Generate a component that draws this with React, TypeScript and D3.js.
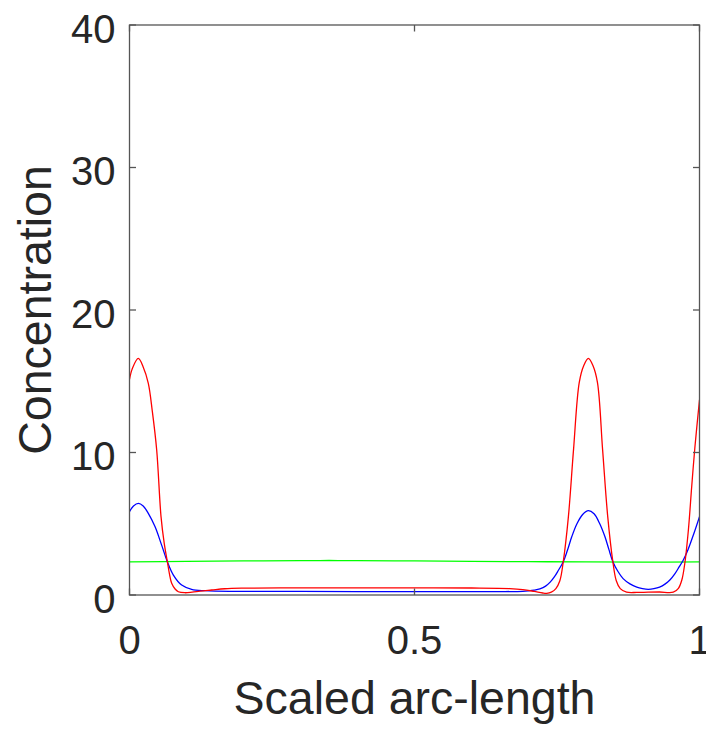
import React from "react";
import * as d3 from "d3";

const xTicks = [0, 0.5, 1];
const xTickLabels = ["0", "0.5", "1"];
const yTicks = [0, 10, 20, 30, 40];
const yTickLabels = ["0", "10", "20", "30", "40"];

const redX = [0, 0.005, 0.0155, 0.024, 0.033, 0.04, 0.0477, 0.0553, 0.061, 0.0664, 0.07, 0.074, 0.08, 0.0857, 0.097, 0.11, 0.124, 0.144, 0.167, 0.2, 0.3, 0.4, 0.5, 0.6, 0.667, 0.69, 0.71, 0.725, 0.732, 0.74, 0.748, 0.755, 0.761, 0.77, 0.779, 0.789, 0.797, 0.805, 0.813, 0.821, 0.83, 0.839, 0.848, 0.854, 0.861, 0.872, 0.89, 0.91, 0.93, 0.954, 0.963, 0.969, 0.9745, 0.9805, 0.9863, 0.992, 1.0];
const redY = [15.14, 15.9, 16.6, 16.0, 14.85, 12.9, 10.18, 5.5, 3.6, 2.34, 1.5, 0.82, 0.42, 0.23, 0.16, 0.2, 0.27, 0.35, 0.44, 0.48, 0.5, 0.5, 0.5, 0.49, 0.45, 0.38, 0.25, 0.14, 0.12, 0.2, 0.45, 1.0, 2.34, 5.5, 10.2, 14.9, 16.1, 16.6, 16.1, 14.9, 10.2, 5.5, 2.34, 1.0, 0.45, 0.2, 0.18, 0.2, 0.21, 0.2, 0.47, 1.05, 2.3, 4.56, 7.6, 10.4, 13.7];

const blueX = [0, 0.007, 0.0155, 0.024, 0.033, 0.0447, 0.0564, 0.0664, 0.077, 0.0915, 0.109, 0.132, 0.15, 0.3, 0.5, 0.65, 0.69, 0.7, 0.71, 0.72, 0.73, 0.738, 0.745, 0.752, 0.761, 0.768, 0.776, 0.785, 0.795, 0.805, 0.815, 0.825, 0.834, 0.841, 0.848, 0.857, 0.866, 0.878, 0.89, 0.9, 0.91, 0.92, 0.93, 0.94, 0.948, 0.957, 0.964, 0.9716, 0.98, 0.99, 1.0];
const blueY = [5.85, 6.25, 6.43, 6.25, 5.73, 4.8, 3.5, 2.34, 1.4, 0.7, 0.4, 0.3, 0.27, 0.25, 0.24, 0.24, 0.26, 0.29, 0.34, 0.43, 0.62, 0.9, 1.25, 1.7, 2.34, 3.1, 4.1, 5.0, 5.65, 5.92, 5.7, 5.0, 4.1, 3.2, 2.34, 1.65, 1.15, 0.78, 0.55, 0.45, 0.4, 0.44, 0.55, 0.78, 1.05, 1.5, 1.95, 2.46, 3.2, 4.3, 5.5];

const greenX = [0, 0.1, 0.2, 0.3, 0.35, 0.4, 0.5, 0.6, 0.7, 0.8, 0.9, 1.0];
const greenY = [2.32, 2.36, 2.39, 2.41, 2.42, 2.41, 2.39, 2.36, 2.34, 2.32, 2.31, 2.32];

const W = 706;
const H = 729;
const left = 129.5;
const right = 699.5;
const top = 25;
const bottom = 595;
const font = "'Liberation Sans', Arial, Helvetica, sans-serif";
const textColor = "#262626";
const axisColor = "#555555";

export default function App() {
  const x = d3.scaleLinear().domain([0, 1]).range([left, right]);
  const y = d3.scaleLinear().domain([0, 40]).range([bottom, top]);
  const line = d3
    .line<[number, number]>()
    .x((d) => x(d[0]))
    .y((d) => y(d[1]))
    .curve(d3.curveCatmullRom.alpha(0.5));

  const series = [
    { xs: greenX, ys: greenY, color: "#00ff00" },
    { xs: blueX, ys: blueY, color: "#0000ff" },
    { xs: redX, ys: redY, color: "#ff0000" },
  ];
  const tickLen = 6.5;

  return (
    <svg
      width={W}
      height={H}
      style={{ position: "absolute", left: 0, top: 0, background: "#fff" }}
    >
      <rect x={0} y={0} width={W} height={H} fill="#ffffff" />
      <defs>
        <clipPath id="plotclip">
          <rect x={left} y={top} width={right - left} height={bottom - top} />
        </clipPath>
      </defs>
      <g clipPath="url(#plotclip)">
        {series.map((s, i) => (
          <path
            key={i}
            d={line(s.xs.map((v, j) => [v, s.ys[j]] as [number, number])) || ""}
            fill="none"
            stroke={s.color}
            strokeWidth={1.3}
          />
        ))}
      </g>
      <rect
        x={left}
        y={top}
        width={right - left}
        height={bottom - top}
        fill="none"
        stroke={axisColor}
        strokeWidth={1.3}
      />
      {xTicks.map((t, i) => (
        <g key={"xt" + i}>
          <line x1={x(t)} x2={x(t)} y1={bottom} y2={bottom - tickLen} stroke={axisColor} strokeWidth={1.3} />
          <line x1={x(t)} x2={x(t)} y1={top} y2={top + tickLen} stroke={axisColor} strokeWidth={1.3} />
          <text
            x={x(t)}
            y={bottom + 59}
            textAnchor="middle"
            fontFamily={font}
            fontSize={40}
            fill={textColor}
          >
            {xTickLabels[i]}
          </text>
        </g>
      ))}
      {yTicks.map((t, i) => (
        <g key={"yt" + i}>
          <line x1={left} x2={left + tickLen} y1={y(t)} y2={y(t)} stroke={axisColor} strokeWidth={1.3} />
          <line x1={right} x2={right - tickLen} y1={y(t)} y2={y(t)} stroke={axisColor} strokeWidth={1.3} />
          <text
            x={left - 14}
            y={y(t) + 17.5}
            textAnchor="end"
            fontFamily={font}
            fontSize={40}
            fill={textColor}
          >
            {yTickLabels[i]}
          </text>
        </g>
      ))}
      <text
        x={(left + right) / 2}
        y={714}
        textAnchor="middle"
        fontFamily={font}
        fontSize={46.5}
        fill={textColor}
      >
        Scaled arc-length
      </text>
      <text
        transform={`translate(51, ${(top + bottom) / 2}) rotate(-90)`}
        textAnchor="middle"
        fontFamily={font}
        fontSize={46.5}
        fill={textColor}
      >
        Concentration
      </text>
    </svg>
  );
}
